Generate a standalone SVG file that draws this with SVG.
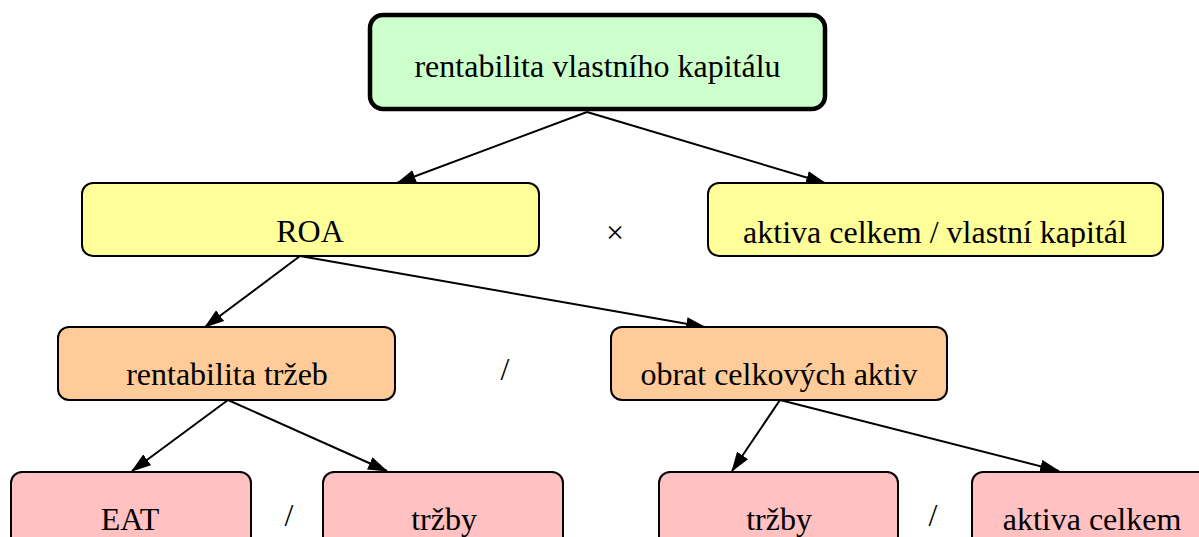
<svg xmlns="http://www.w3.org/2000/svg" width="1199" height="537" viewBox="0 0 1199 537">
<style>
.box{stroke:#000;stroke-width:2}
.t{font-family:"Liberation Serif","Times New Roman",serif;font-size:32px;fill:#000;text-anchor:middle}
.c{stroke:#000;stroke-width:2;fill:none;marker-end:url(#ah)}
</style>
<defs>
<marker id="ah" markerUnits="userSpaceOnUse" markerWidth="20" markerHeight="14" refX="17" refY="6" orient="auto" viewBox="0 0 18 12">
<path d="M0,0 L18,6 L0,12 z" fill="#000"/>
</marker>
<clipPath id="clipR"><rect x="700" y="180" width="470" height="67"/></clipPath>
</defs>
<rect width="1199" height="537" fill="#fff"/>
<g id="connectors">
<line class="c" x1="587" y1="112" x2="397" y2="183"/>
<line class="c" x1="587" y1="112" x2="825" y2="183"/>
<line class="c" x1="300" y1="256" x2="205" y2="327"/>
<line class="c" x1="300" y1="256" x2="705" y2="327"/>
<line class="c" x1="228" y1="400" x2="132" y2="471"/>
<line class="c" x1="228" y1="400" x2="387" y2="471"/>
<line class="c" x1="780" y1="400" x2="732" y2="471"/>
<line class="c" x1="780" y1="400" x2="1059" y2="471"/>
</g>
<g id="n-roe">
<rect x="370" y="15" width="455" height="94" rx="13" fill="#ccffcc" stroke="#000" stroke-width="4.5"/>
<text class="t" x="597.5" y="77">rentabilita vlastního kapitálu</text>
</g>
<g id="n-roa">
<rect class="box" x="82" y="183" width="457" height="73" rx="11" fill="#ffff99"/>
<text class="t" x="310" y="242">ROA</text>
</g>
<g id="n-leverage">
<rect class="box" x="708" y="183" width="455" height="73" rx="11" fill="#ffff99"/>
<text class="t" x="935" y="243" clip-path="url(#clipR)">aktiva celkem / vlastní kapitál</text>
</g>
<g id="op-times"><text class="t" x="615" y="243">×</text></g>
<g id="n-ros">
<rect class="box" x="58" y="327" width="337" height="73" rx="11" fill="#ffcc99"/>
<text class="t" x="227" y="385">rentabilita tržeb</text>
</g>
<g id="op-div1"><text class="t" x="505" y="380">/</text></g>
<g id="n-turnover">
<rect class="box" x="611" y="327" width="336" height="73" rx="11" fill="#ffcc99"/>
<text class="t" x="779" y="385">obrat celkových aktiv</text>
</g>
<g id="n-eat">
<rect class="box" x="11" y="472" width="240" height="90" rx="11" fill="#ffc1c1"/>
<text class="t" x="130" y="530">EAT</text>
</g>
<g id="op-div2"><text class="t" x="289" y="526">/</text></g>
<g id="n-trzby1">
<rect class="box" x="323" y="472" width="240" height="90" rx="11" fill="#ffc1c1"/>
<text class="t" x="444" y="530">tržby</text>
</g>
<g id="n-trzby2">
<rect class="box" x="659" y="472" width="239" height="90" rx="11" fill="#ffc1c1"/>
<text class="t" x="779" y="530">tržby</text>
</g>
<g id="op-div3"><text class="t" x="933" y="526">/</text></g>
<g id="n-aktiva">
<rect class="box" x="972" y="472" width="240" height="90" rx="11" fill="#ffc1c1"/>
<text class="t" x="1092" y="530">aktiva celkem</text>
</g>
</svg>
